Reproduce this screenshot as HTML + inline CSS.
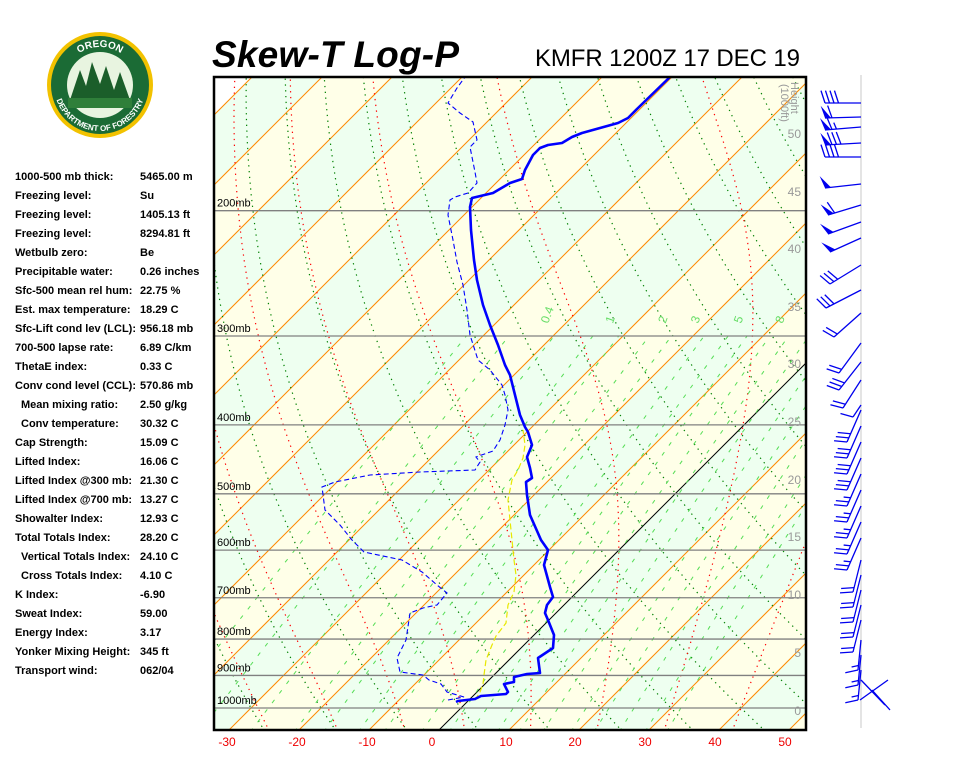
<!DOCTYPE html>
<html><head><meta charset="utf-8"><style>
html,body{margin:0;padding:0;background:#fff;width:960px;height:768px;overflow:hidden}
svg{display:block}
.lt{font:bold 11px "Liberation Sans",sans-serif;fill:#000}
</style></head><body>
<svg id="s" width="960" height="768" xmlns="http://www.w3.org/2000/svg">
<defs>
<clipPath id="cp"><rect x="214" y="77" width="592" height="653"/></clipPath>
<path id="topArc" d="M 62 85 A 38 38 0 0 1 138 85"/>
<path id="botArc" d="M 54 85 A 46 46 0 0 0 146 85"/>
</defs>
<circle cx="100" cy="85" r="53" fill="#f2c200"/>
<circle cx="100" cy="85" r="49" fill="#1b6b35"/>
<circle cx="100" cy="85" r="33" fill="#e8f4e0"/>
<path d="M70 100 L80 70 L86 86 L92 62 L100 84 L106 66 L114 90 L120 72 L130 100 Z" fill="#1b5e2a"/>
<rect x="68" y="98" width="64" height="10" fill="#2f7f3a"/>
<text font-family="Liberation Sans,sans-serif" font-size="10" font-weight="bold" fill="#fff"><textPath href="#topArc" startOffset="50%" text-anchor="middle">OREGON</textPath></text>
<text font-family="Liberation Sans,sans-serif" font-size="8" font-weight="bold" fill="#fff"><textPath href="#botArc" startOffset="50%" text-anchor="middle">DEPARTMENT OF FORESTRY</textPath></text>
<text x="212" y="67" font-family="Liberation Sans,sans-serif" font-size="37" font-weight="bold" font-style="italic" textLength="247">Skew-T Log-P</text>
<text x="535" y="66" font-family="Liberation Sans,sans-serif" font-size="24" textLength="265">KMFR 1200Z 17 DEC 19</text>
<g id="plot" clip-path="url(#cp)"></g>
<rect x="214" y="77" width="592" height="653" fill="none" stroke="#000" stroke-width="2.5"/>
<line x1="861" y1="75" x2="861" y2="728" stroke="#e4e4e4" stroke-width="2"/>
<g id="barbs" stroke="#0000ee" stroke-width="1.3" fill="#0000ee"></g>
<g id="left"></g>
<g font-family="Liberation Sans,sans-serif" font-size="12" fill="#ee0000" text-anchor="middle">
<text x="227" y="746">-30</text><text x="297" y="746">-20</text><text x="367" y="746">-10</text><text x="432" y="746">0</text><text x="506" y="746">10</text><text x="575" y="746">20</text><text x="645" y="746">30</text><text x="715" y="746">40</text><text x="785" y="746">50</text>
</g>
</svg>
<script>
var NS="http://www.w3.org/2000/svg";
function el(p,t,a,txt){var e=document.createElementNS(NS,t);for(var k in a)e.setAttribute(k,a[k]);if(txt!==undefined)e.textContent=txt;p.appendChild(e);return e;}
var plot=document.getElementById('plot');
function Y(p){return 708-309*Math.log(1000/p);}
function X(T,y){return 441+7*T+(728-y);}
for(var k=-12;k<10;k++){
 var t1=k*10,t2=t1+10,yb=735,yt=70;
 var pts=[[X(t1,yb),yb],[X(t2,yb),yb],[X(t2,yt),yt],[X(t1,yt),yt]];
 var c=((k%2)+2)%2==0?'#eefff0':'#ffffe8';
 el(plot,'polygon',{points:pts.map(function(q){return q.join(',')}).join(' '),fill:c});
}
function poly(pts,attr){attr.points=pts.map(function(q){return q[0].toFixed(1)+','+q[1].toFixed(1)}).join(' ');attr.fill='none';return el(plot,'polyline',attr);}
for(var k=-13;k<12;k++){var t=k*10;poly([[X(t,735),735],[X(t,70),70]],{stroke:t==0?'#000':'#ff8800','stroke-width':1});}
for(var th=-40;th<=220;th+=10){var pts=[];for(var p=1080;p>=125;p-=10){var T=(th+273.15)*Math.pow(p/1000,0.286)-273.15;var y=Y(p);pts.push([X(T,y),y]);}poly(pts,{stroke:'#008000','stroke-width':1.2,'stroke-dasharray':'1.3,4.5'});}
function es(T){return 6.112*Math.exp(17.67*T/(T+243.5));}
function rs(T,p){var e=es(T);return 0.622*e/(p-e);}
function dTdp(T,p){var Tk=T+273.15,r=rs(T,p),Rd=287,cp=1004,L=2.5e6;return (Rd*Tk+L*r)/(cp+L*L*r*0.622/(Rd*Tk*Tk))/p;}
[-29,-19,-9,0,10,20,30,40].forEach(function(tw){
 var pts=[],T=tw,p;
 for(p=1000;p>=125;p-=5){var y=Y(p);pts.push([X(T,y),y]);T-=dTdp(T,p)*5;}
 var dn=[];T=tw;for(p=1000;p<=1080;p+=5){var y=Y(p);dn.push([X(T,y),y]);T+=dTdp(T,p)*5;}
 poly(dn.reverse().concat(pts),{stroke:'#ff0000','stroke-width':1.2,'stroke-dasharray':'1.3,4.5'});
});
var ws=[0.1,0.2,0.4,0.7,1,1.5,2,3,4,5,6.5,8,10,13,16,20,25,30];
function tdw(w,p){var e=w*p/(622+w);var l=Math.log(e/6.112);return 243.5*l/(17.67-l);}
ws.forEach(function(w){var pts=[];for(var p=1080;p>=300;p-=10){var y=Y(p);pts.push([X(tdw(w,p),y),y]);}poly(pts,{stroke:'#55dd55','stroke-width':1,'stroke-dasharray':'4,8'});});
[[0.4,'0.4'],[1,'1'],[2,'2'],[3,'3'],[5,'5'],[8,'8']].forEach(function(a){var y=Y(300)-12;var x=X(tdw(a[0],300),Y(300))-6;el(plot,'text',{x:x,y:y,transform:'rotate(-70 '+x+' '+y+')','font-family':'Liberation Sans,sans-serif','font-size':12,fill:'#66dd66'},a[1]);});
[[200,'200mb'],[300,'300mb'],[400,'400mb'],[500,'500mb'],[600,'600mb'],[700,'700mb'],[800,'800mb'],[900,'900mb'],[1000,'1000mb']].forEach(function(a){var y=Y(a[0]);el(plot,'line',{x1:214,x2:806,y1:y,y2:y,stroke:'#808080','stroke-width':1.3});el(plot,'text',{x:217,y:y-4,'font-family':'Liberation Sans,sans-serif','font-size':11,fill:'#000'},a[1]);});
[[0,710],[5,652],[10,594],[15,536],[20,479],[25,421],[30,363],[35,306],[40,248],[45,191],[50,133]].forEach(function(a){el(plot,'text',{x:801,y:a[1]+5,'text-anchor':'end','font-family':'Liberation Sans,sans-serif','font-size':12,fill:'#999'},a[0]);});
el(plot,'text',{x:791,y:82,transform:'rotate(90 791 82)','font-family':'Liberation Sans,sans-serif','font-size':11,fill:'#999'},'Height');
el(plot,'text',{x:781,y:84,transform:'rotate(90 781 84)','font-family':'Liberation Sans,sans-serif','font-size':11,fill:'#999'},'(1000ft)');
poly([[475,700],[480,692],[483,684],[484,675],[486,660],[492,645],[496,636],[506,623],[508,605],[514,592],[516,575],[514,560],[512,540],[510,520],[508,500],[512,480],[518,470],[523,458],[525,445],[523,430]],{stroke:'#e8e800','stroke-width':1.2,'stroke-dasharray':'6,3'});
poly([[448,700],[464,697],[447,692],[441,684],[429,680],[423,675],[400,672],[397,658],[406,640],[410,613],[423,608],[437,605],[447,593],[437,585],[422,572],[402,560],[364,552],[352,540],[340,525],[325,510],[322,487],[335,482],[370,475],[420,472],[475,470],[480,462],[476,457],[493,451],[500,440],[505,425],[508,410],[505,395],[502,385],[490,370],[478,360],[470,335],[467,310],[463,285],[457,262],[453,240],[448,215],[450,200],[455,197],[468,193],[477,183],[475,172],[470,147],[477,140],[473,122],[460,113],[448,103],[457,88],[465,77]],{stroke:'#0000ff','stroke-width':1.1,'stroke-dasharray':'5,3'});
poly([[456,702],[458,701],[475,699],[481,696],[506,694],[508,692],[504,684],[514,682],[514,677],[527,674],[540,673],[538,658],[553,648],[554,635],[548,620],[545,613],[547,605],[553,597],[550,587],[544,565],[548,550],[541,540],[530,515],[527,495],[526,482],[532,478],[530,468],[527,457],[532,445],[528,432],[525,427],[520,415],[510,375],[505,365],[498,345],[490,325],[483,305],[477,280],[474,260],[471,230],[470,207],[472,198],[493,193],[510,183],[522,179],[525,170],[533,155],[540,148],[548,145],[562,143],[572,137],[582,133],[600,128],[618,123],[628,118],[638,108],[670,77]],{stroke:'#0000ff','stroke-width':2.6,'stroke-linejoin':'round'});
var left=document.getElementById('left');
var rows=[['1000-500 mb thick:','5465.00 m',0],['Freezing level:','Su',0],['Freezing level:','1405.13 ft',0],['Freezing level:','8294.81 ft',0],['Wetbulb zero:','Be',0],['Precipitable water:','0.26 inches',0],['Sfc-500 mean rel hum:','22.75 %',0],['Est. max temperature:','18.29 C',0],['Sfc-Lift cond lev (LCL):','956.18 mb',0],['700-500 lapse rate:','6.89 C/km',0],['ThetaE index:','0.33 C',0],['Conv cond level (CCL):','570.86 mb',0],['Mean mixing ratio:','2.50 g/kg',1],['Conv temperature:','30.32 C',1],['Cap Strength:','15.09 C',0],['Lifted Index:','16.06 C',0],['Lifted Index @300 mb:','21.30 C',0],['Lifted Index @700 mb:','13.27 C',0],['Showalter Index:','12.93 C',0],['Total Totals Index:','28.20 C',0],['Vertical Totals Index:','24.10 C',1],['Cross Totals Index:','4.10 C',1],['K Index:','-6.90',0],['Sweat Index:','59.00',0],['Energy Index:','3.17',0],['Yonker Mixing Height:','345 ft',0],['Transport wind:','062/04',0]];
rows.forEach(function(r,i){var y=180+i*19;el(left,'text',{x:r[2]?21:15,y:y,'class':'lt'},r[0]);el(left,'text',{x:140,y:y,'class':'lt'},r[1]);});
var bg=document.getElementById('barbs');
function barb(y,dx,dy,spd){
 var bx=861,by=y,tx=bx+dx,ty=by+dy,L=Math.sqrt(dx*dx+dy*dy),ux=dx/L,uy=dy/L;
 var th=72*Math.PI/180,vx=ux*Math.cos(th)-uy*Math.sin(th),vy=ux*Math.sin(th)+uy*Math.cos(th);
 el(bg,'line',{x1:bx,y1:by,x2:tx,y2:ty});
 var pos=0,s=spd;
 while(s>=50){var ax=tx-ux*pos,ay=ty-uy*pos,cx=tx-ux*(pos+6),cy=ty-uy*(pos+6);el(bg,'polygon',{points:ax+','+ay+' '+(ax+vx*13)+','+(ay+vy*13)+' '+cx+','+cy,stroke:'none'});pos+=7;s-=50;}
 while(s>=10){var ax=tx-ux*pos,ay=ty-uy*pos;el(bg,'line',{x1:ax,y1:ay,x2:ax+vx*13,y2:ay+vy*13});pos+=4.5;s-=10;}
 if(s>=5){if(pos==0)pos=4.5;var ax=tx-ux*pos,ay=ty-uy*pos;el(bg,'line',{x1:ax,y1:ay,x2:ax+vx*7,y2:ay+vy*7});}
}
[[103,-36,0,40],[117,-36,1,60],[127,-36,3,65],[143,-36,2,80],[157,-36,0,40],[184,-36,4,50],[205,-33,10,60],[222,-33,12,50],[238,-31,14,50],[265,-31,19,30],[290,-35,18,30],[313,-27,24,20],[343,-22,30,20],[362,-22,28,30],[380,-18,28,20],[405,-8,12,10]].forEach(function(b){barb.apply(null,b);});
for(var y=410;y<=540;y+=16){barb(y,-14,32,y<470?30:25);}
for(var y=560;y<=620;y+=15){barb(y,-8,32,20);}
for(var y=640;y<=680;y+=15){barb(y,-3,30,15);}
el(bg,'line',{x1:861,y1:680,x2:885,y2:705});el(bg,'line',{x1:860,y1:700,x2:888,y2:680});el(bg,'line',{x1:872,y1:690,x2:890,y2:710});
</script>
</body></html>
